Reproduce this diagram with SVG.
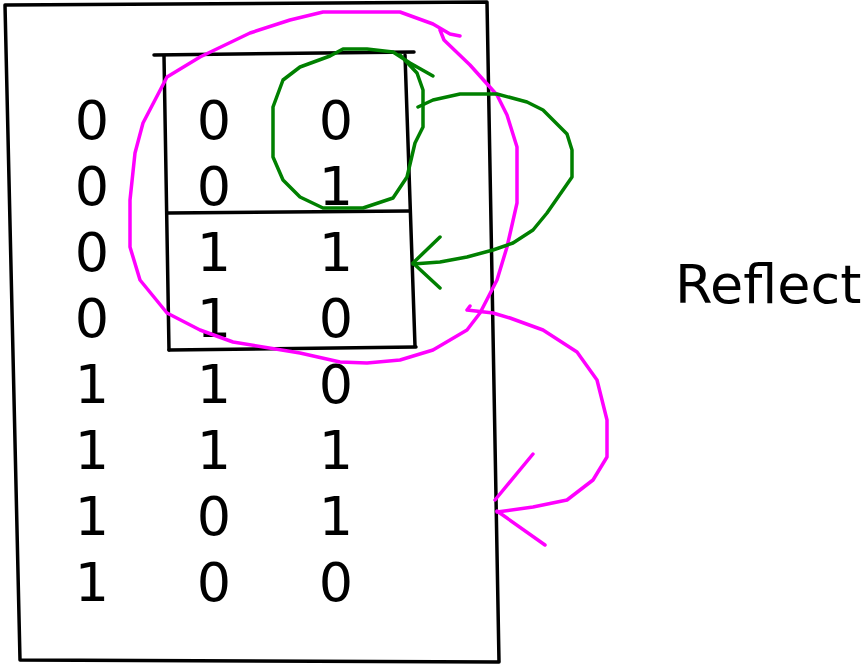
<svg xmlns="http://www.w3.org/2000/svg" width="867" height="665" viewBox="0 0 867 665">
<style>
.ink{fill:none;stroke-linecap:round;stroke-linejoin:round}
.blk{stroke:#000;stroke-width:3.5}
.pink{stroke:#ff00ff;stroke-width:3.5}
.grn{stroke:#008000;stroke-width:3.5}
.d{font-family:"DejaVu Sans",sans-serif;font-size:54px;fill:#000;text-anchor:middle}
.lbl{font-family:"DejaVu Sans",sans-serif;font-size:54px;fill:#000}
</style>
<rect width="867" height="665" fill="#fff"/>
<g id="frame" class="ink blk">
<polyline points="5,5 487,2 499,662 20,660 5,5"/>
</g>
<g id="inner" class="ink blk">
<line x1="154" y1="55" x2="414" y2="52"/>
<line x1="164" y1="56" x2="169" y2="350"/>
<line x1="405" y1="55" x2="415" y2="346"/>
<line x1="168" y1="213" x2="410" y2="211"/>
<line x1="169" y1="350" x2="416" y2="347"/>
</g>
<g id="digits">
<text class="d" x="92" y="139">0</text><text class="d" x="214" y="139">0</text><text class="d" x="336" y="139">0</text>
<text class="d" x="92" y="205">0</text><text class="d" x="214" y="205">0</text><text class="d" x="336" y="205">1</text>
<text class="d" x="92" y="271">0</text><text class="d" x="214" y="271">1</text><text class="d" x="336" y="271">1</text>
<text class="d" x="92" y="337">0</text><text class="d" x="214" y="337">1</text><text class="d" x="336" y="337">0</text>
<text class="d" x="92" y="403">1</text><text class="d" x="214" y="403">1</text><text class="d" x="336" y="403">0</text>
<text class="d" x="92" y="469">1</text><text class="d" x="214" y="469">1</text><text class="d" x="336" y="469">1</text>
<text class="d" x="92" y="535">1</text><text class="d" x="214" y="535">0</text><text class="d" x="336" y="535">1</text>
<text class="d" x="92" y="601">1</text><text class="d" x="214" y="601">0</text><text class="d" x="336" y="601">0</text>
</g>
<g id="reflect-label"><text class="lbl" x="675" y="303">Reflect</text></g>
<g id="connectors">
<path class="ink pink" d="M460,36 L450,34 L433,24 L400,12 L323,12 L290,20 L250,33 L200,57 L167,77 L155,100 L143,123 L135,153 L130,200 L130,247 L140,280 L167,313 L200,330 L233,342 L300,353 L340,362 L367,363 L400,360 L433,350 L467,330 L480,313 L497,280 L507,247 L517,203 L517,147 L507,115 L497,95 L470,65 L444,40 L440,30"/>
<path class="ink pink" d="M470,306 L467,310 L493,313 L510,318 L543,330 L577,352 L597,380 L607,420 L607,457 L593,480 L567,500 L533,507 L497,512"/>
<path class="ink pink" d="M495,500 L533,454 M497,511 L545,545"/>
<path class="ink grn" d="M433,76 L410,63 L393,52 L367,49 L343,49 L330,56 L300,67 L283,80 L273,107 L273,157 L283,180 L300,197 L323,208 L363,208 L393,198 L407,177 L415,143 L423,127 L423,90 L417,73 L400,55"/>
<path class="ink grn" d="M418,107 L433,100 L460,94 L497,94 L527,102 L543,110 L567,134 L572,150 L572,177 L563,190 L547,213 L533,230 L513,243 L493,250 L467,257 L440,262 L413,264"/>
<path class="ink grn" d="M440,237 L413,263 L440,288"/>
</g>
</svg>
